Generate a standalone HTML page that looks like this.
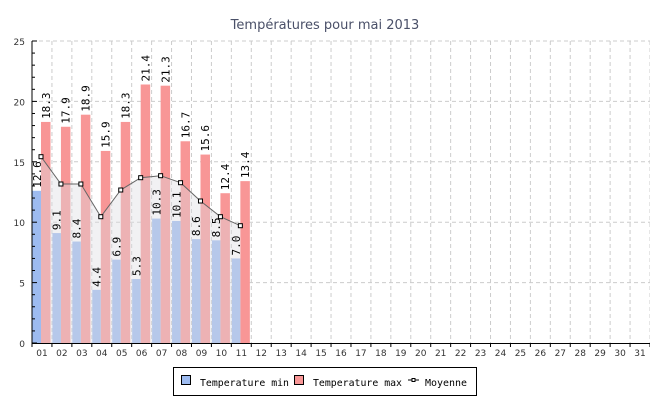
<!DOCTYPE html>
<html><head><meta charset="utf-8"><style>
html,body{margin:0;padding:0;background:#fff;}
svg{display:block;}
</style></head><body>
<svg id="c" width="650" height="400" xmlns="http://www.w3.org/2000/svg" font-family="'DejaVu Sans Mono','Liberation Mono',monospace">
<text x="325" y="29" text-anchor="middle" font-family="'DejaVu Sans','Liberation Sans',sans-serif" font-size="13" fill="#4a5068">Températures pour mai 2013</text>
</svg>
<script>
var s=document.getElementById('c'),h='';
function Y(v){return 343-12.08*v;}
var W=618/31;
var mn=[12.6,9.1,8.4,4.4,6.9,5.3,10.3,10.1,8.6,8.5,7.0];
var mx=[18.3,17.9,18.9,15.9,18.3,21.4,21.3,16.7,15.6,12.4,13.4];
var my=[156.7,184,184,216.7,190,177.7,175.7,182.7,201,216.7,225.7];
for(var v=5;v<=25;v+=5)h+='<line x1="32" x2="650" y1="'+Y(v)+'" y2="'+Y(v)+'" stroke="#ccc" stroke-dasharray="4,3"/>';
for(var i=1;i<=31;i++){var x=32+W*i;h+='<line x1="'+x+'" x2="'+x+'" y1="41" y2="343" stroke="#ccc" stroke-dasharray="4,3"/>';}
for(var i=0;i<11;i++){var x=32+W*i;
h+='<rect x="'+(x+0.5)+'" y="'+Y(mn[i])+'" width="8.5" height="'+(343-Y(mn[i]))+'" fill="#9dbbf0"/>';
h+='<rect x="'+(x+9)+'" y="'+Y(mx[i])+'" width="9.5" height="'+(343-Y(mx[i]))+'" fill="#f89696"/>';}
var p='M41,343';for(var i=0;i<11;i++)p+=' L'+(41+W*i)+','+my[i];p+=' L'+(41+W*10)+',343 Z';
h+='<path d="'+p+'" fill="rgba(220,220,225,0.4)"/>';
var l='';for(var i=0;i<11;i++)l+=(i?' L':'M')+(41+W*i)+','+my[i];
h+='<path d="'+l+'" fill="none" stroke="#666" stroke-width="1"/>';
for(var i=0;i<11;i++)h+='<rect x="'+(41+W*i-2)+'" y="'+(my[i]-2)+'" width="4" height="4" fill="#fff" stroke="#000" stroke-width="1"/>';
for(var i=0;i<11;i++){var x=32+W*i;
var cx=x+4.75+4,ty=Y(mn[i])-3;
h+='<text transform="translate('+cx+','+ty+') rotate(-90)" font-size="11" fill="#000">'+mn[i].toFixed(1)+'</text>';
cx=x+13.75+4;ty=Y(mx[i])-3;
h+='<text transform="translate('+cx+','+ty+') rotate(-90)" font-size="11" fill="#000">'+mx[i].toFixed(1)+'</text>';}
h+='<line x1="32" x2="32" y1="41" y2="343" stroke="#000"/>';
h+='<line x1="32" x2="650" y1="343.5" y2="343.5" stroke="#000"/>';
for(var v=0;v<=25;v++){var y=Y(v);h+='<line x1="32" x2="'+(v%5?35:37)+'" y1="'+y+'" y2="'+y+'" stroke="#000"/>';
if(v%5==0)h+='<text x="25" y="'+(y+4)+'" text-anchor="end" font-size="9" fill="#333" font-family="\'DejaVu Sans\',sans-serif">'+v+'</text>';}
for(var i=0;i<=31;i++){var x=32+W*i;h+='<line x1="'+x+'" x2="'+x+'" y1="343" y2="347" stroke="#000"/>';
if(i<31)h+='<text x="'+(x+W/2)+'" y="356" text-anchor="middle" font-size="9" fill="#333" font-family="\'DejaVu Sans\',sans-serif">'+(i<9?'0':'')+(i+1)+'</text>';}
h+='<rect x="173.5" y="367.5" width="303" height="28" fill="#fff" stroke="#000"/>';
h+='<rect x="181.5" y="375.5" width="9" height="9" fill="#9dbbf0" stroke="#000"/>';
h+='<text x="200" y="386" font-size="10" textLength="89" lengthAdjust="spacingAndGlyphs">Temperature min</text>';
h+='<rect x="294.5" y="375.5" width="9" height="9" fill="#f89696" stroke="#000"/>';
h+='<text x="313" y="386" font-size="10" textLength="89" lengthAdjust="spacingAndGlyphs">Temperature max</text>';
h+='<line x1="408" x2="419" y1="380" y2="380" stroke="#000"/><rect x="412" y="378.5" width="3" height="3" fill="#fff" stroke="#000"/>';
h+='<text x="425" y="386" font-size="10" textLength="42" lengthAdjust="spacingAndGlyphs">Moyenne</text>';
s.insertAdjacentHTML('beforeend',h);
</script>
</body></html>
